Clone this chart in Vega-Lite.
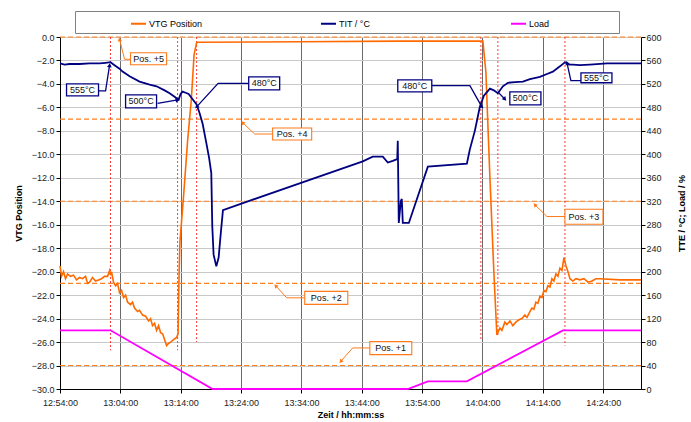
{
  "$schema": "https://vega.github.io/schema/vega-lite/v6.json",
  "width": 581,
  "height": 352,
  "autosize": {"type": "none"},
  "padding": {"left": 60, "top": 37, "right": 50, "bottom": 33},
  "background": "white",
  "config": {
    "view": {"stroke": null},
    "font": "Liberation Sans",
    "axis": {"labelFont": "Liberation Sans", "titleFont": "Liberation Sans", "labelFontSize": 9, "titleFontSize": 9, "labelColor": "#222", "titleColor": "#000", "domainColor": "#000", "tickColor": "#000", "tickSize": 4, "labelOverlap": false},
    "legend": {"orient": "none", "legendX": 15, "legendY": -26, "direction": "horizontal", "columns": 3, "gridAlign": "all", "columnPadding": 66, "symbolOffset": 51, "strokeColor": "#808080", "padding": 4, "symbolType": "stroke", "symbolStrokeWidth": 2, "symbolSize": 225, "labelFontSize": 9, "labelFont": "Liberation Sans", "labelOffset": 2, "labelColor": "#000", "titleOrient": "right", "titlePadding": 66, "titleFontSize": 9}
  },
  "data": {
    "format": {"parse": {"t": "date:'%H:%M:%S'", "t2": "date:'%H:%M:%S'", "tc": "date:'%H:%M:%S'"}},
    "values": [
      {"k": "line", "s": "VTG Position", "t": "12:54:00", "v": -19.5},
      {"k": "line", "s": "VTG Position", "t": "12:54:15", "v": -20.4},
      {"k": "line", "s": "VTG Position", "t": "12:54:35", "v": -20.0},
      {"k": "line", "s": "VTG Position", "t": "12:54:55", "v": -20.6},
      {"k": "line", "s": "VTG Position", "t": "12:55:15", "v": -20.2},
      {"k": "line", "s": "VTG Position", "t": "12:55:44", "v": -20.4},
      {"k": "line", "s": "VTG Position", "t": "12:56:14", "v": -20.3},
      {"k": "line", "s": "VTG Position", "t": "12:56:44", "v": -20.7},
      {"k": "line", "s": "VTG Position", "t": "12:57:14", "v": -20.5},
      {"k": "line", "s": "VTG Position", "t": "12:57:44", "v": -20.6},
      {"k": "line", "s": "VTG Position", "t": "12:58:14", "v": -20.4},
      {"k": "line", "s": "VTG Position", "t": "12:58:34", "v": -21.0},
      {"k": "line", "s": "VTG Position", "t": "12:58:54", "v": -20.9},
      {"k": "line", "s": "VTG Position", "t": "12:59:23", "v": -20.5},
      {"k": "line", "s": "VTG Position", "t": "12:59:53", "v": -20.8},
      {"k": "line", "s": "VTG Position", "t": "13:00:23", "v": -20.7},
      {"k": "line", "s": "VTG Position", "t": "13:00:53", "v": -20.6},
      {"k": "line", "s": "VTG Position", "t": "13:01:23", "v": -20.4},
      {"k": "line", "s": "VTG Position", "t": "13:01:53", "v": -20.4},
      {"k": "line", "s": "VTG Position", "t": "13:02:13", "v": -19.9},
      {"k": "line", "s": "VTG Position", "t": "13:02:22", "v": -20.3},
      {"k": "line", "s": "VTG Position", "t": "13:02:32", "v": -20.0},
      {"k": "line", "s": "VTG Position", "t": "13:02:52", "v": -20.9},
      {"k": "line", "s": "VTG Position", "t": "13:03:12", "v": -21.2},
      {"k": "line", "s": "VTG Position", "t": "13:03:32", "v": -21.0},
      {"k": "line", "s": "VTG Position", "t": "13:03:52", "v": -21.8},
      {"k": "line", "s": "VTG Position", "t": "13:04:12", "v": -21.6},
      {"k": "line", "s": "VTG Position", "t": "13:04:32", "v": -22.2},
      {"k": "line", "s": "VTG Position", "t": "13:04:52", "v": -22.0},
      {"k": "line", "s": "VTG Position", "t": "13:05:12", "v": -22.6},
      {"k": "line", "s": "VTG Position", "t": "13:05:41", "v": -22.8},
      {"k": "line", "s": "VTG Position", "t": "13:06:01", "v": -22.6},
      {"k": "line", "s": "VTG Position", "t": "13:06:21", "v": -23.1},
      {"k": "line", "s": "VTG Position", "t": "13:06:51", "v": -23.4},
      {"k": "line", "s": "VTG Position", "t": "13:07:11", "v": -23.3},
      {"k": "line", "s": "VTG Position", "t": "13:07:41", "v": -23.7},
      {"k": "line", "s": "VTG Position", "t": "13:08:11", "v": -23.8},
      {"k": "line", "s": "VTG Position", "t": "13:08:41", "v": -24.2},
      {"k": "line", "s": "VTG Position", "t": "13:09:00", "v": -24.0},
      {"k": "line", "s": "VTG Position", "t": "13:09:20", "v": -24.6},
      {"k": "line", "s": "VTG Position", "t": "13:09:40", "v": -24.4},
      {"k": "line", "s": "VTG Position", "t": "13:10:00", "v": -25.0},
      {"k": "line", "s": "VTG Position", "t": "13:10:20", "v": -24.6},
      {"k": "line", "s": "VTG Position", "t": "13:10:40", "v": -25.2},
      {"k": "line", "s": "VTG Position", "t": "13:11:00", "v": -25.3},
      {"k": "line", "s": "VTG Position", "t": "13:11:20", "v": -25.8},
      {"k": "line", "s": "VTG Position", "t": "13:11:40", "v": -26.3},
      {"k": "line", "s": "VTG Position", "t": "13:12:00", "v": -26.1},
      {"k": "line", "s": "VTG Position", "t": "13:12:20", "v": -26.0},
      {"k": "line", "s": "VTG Position", "t": "13:12:49", "v": -25.8},
      {"k": "line", "s": "VTG Position", "t": "13:13:19", "v": -25.6},
      {"k": "line", "s": "VTG Position", "t": "13:13:34", "v": -25.3},
      {"k": "line", "s": "VTG Position", "t": "13:13:42", "v": -21.0},
      {"k": "line", "s": "VTG Position", "t": "13:13:52", "v": -17.5},
      {"k": "line", "s": "VTG Position", "t": "13:14:29", "v": -13.5},
      {"k": "line", "s": "VTG Position", "t": "13:15:09", "v": -8.8},
      {"k": "line", "s": "VTG Position", "t": "13:15:45", "v": -5.4},
      {"k": "line", "s": "VTG Position", "t": "13:16:13", "v": -1.5},
      {"k": "line", "s": "VTG Position", "t": "13:16:38", "v": -0.5},
      {"k": "line", "s": "VTG Position", "t": "13:16:48", "v": -0.45},
      {"k": "line", "s": "VTG Position", "t": "13:33:43", "v": -0.4},
      {"k": "line", "s": "VTG Position", "t": "13:50:18", "v": -0.35},
      {"k": "line", "s": "VTG Position", "t": "14:04:04", "v": -0.35},
      {"k": "line", "s": "VTG Position", "t": "14:04:34", "v": -3.0},
      {"k": "line", "s": "VTG Position", "t": "14:05:14", "v": -12.0},
      {"k": "line", "s": "VTG Position", "t": "14:05:53", "v": -20.0},
      {"k": "line", "s": "VTG Position", "t": "14:06:23", "v": -25.4},
      {"k": "line", "s": "VTG Position", "t": "14:06:53", "v": -24.8},
      {"k": "line", "s": "VTG Position", "t": "14:07:13", "v": -25.0},
      {"k": "line", "s": "VTG Position", "t": "14:07:43", "v": -24.3},
      {"k": "line", "s": "VTG Position", "t": "14:08:03", "v": -24.5},
      {"k": "line", "s": "VTG Position", "t": "14:08:33", "v": -24.2},
      {"k": "line", "s": "VTG Position", "t": "14:09:02", "v": -24.6},
      {"k": "line", "s": "VTG Position", "t": "14:09:32", "v": -24.3},
      {"k": "line", "s": "VTG Position", "t": "14:10:02", "v": -24.1},
      {"k": "line", "s": "VTG Position", "t": "14:10:32", "v": -24.0},
      {"k": "line", "s": "VTG Position", "t": "14:11:02", "v": -23.7},
      {"k": "line", "s": "VTG Position", "t": "14:11:22", "v": -23.9},
      {"k": "line", "s": "VTG Position", "t": "14:11:52", "v": -23.4},
      {"k": "line", "s": "VTG Position", "t": "14:12:11", "v": -23.1},
      {"k": "line", "s": "VTG Position", "t": "14:12:31", "v": -23.2},
      {"k": "line", "s": "VTG Position", "t": "14:12:51", "v": -22.6},
      {"k": "line", "s": "VTG Position", "t": "14:13:11", "v": -22.7},
      {"k": "line", "s": "VTG Position", "t": "14:13:31", "v": -22.1},
      {"k": "line", "s": "VTG Position", "t": "14:13:51", "v": -22.2},
      {"k": "line", "s": "VTG Position", "t": "14:14:11", "v": -21.6},
      {"k": "line", "s": "VTG Position", "t": "14:14:31", "v": -21.7},
      {"k": "line", "s": "VTG Position", "t": "14:14:51", "v": -21.2},
      {"k": "line", "s": "VTG Position", "t": "14:15:11", "v": -21.3},
      {"k": "line", "s": "VTG Position", "t": "14:15:30", "v": -20.6},
      {"k": "line", "s": "VTG Position", "t": "14:15:50", "v": -20.8},
      {"k": "line", "s": "VTG Position", "t": "14:16:10", "v": -20.2},
      {"k": "line", "s": "VTG Position", "t": "14:16:30", "v": -20.4},
      {"k": "line", "s": "VTG Position", "t": "14:16:50", "v": -19.7},
      {"k": "line", "s": "VTG Position", "t": "14:17:10", "v": -19.9},
      {"k": "line", "s": "VTG Position", "t": "14:17:30", "v": -18.8},
      {"k": "line", "s": "VTG Position", "t": "14:17:50", "v": -19.5},
      {"k": "line", "s": "VTG Position", "t": "14:18:10", "v": -20.0},
      {"k": "line", "s": "VTG Position", "t": "14:18:30", "v": -20.6},
      {"k": "line", "s": "VTG Position", "t": "14:18:59", "v": -20.8},
      {"k": "line", "s": "VTG Position", "t": "14:19:29", "v": -20.6},
      {"k": "line", "s": "VTG Position", "t": "14:20:09", "v": -20.7},
      {"k": "line", "s": "VTG Position", "t": "14:20:49", "v": -20.6},
      {"k": "line", "s": "VTG Position", "t": "14:21:29", "v": -20.9},
      {"k": "line", "s": "VTG Position", "t": "14:22:09", "v": -20.8},
      {"k": "line", "s": "VTG Position", "t": "14:22:48", "v": -20.6},
      {"k": "line", "s": "VTG Position", "t": "14:23:28", "v": -20.6},
      {"k": "line", "s": "VTG Position", "t": "14:26:47", "v": -20.7},
      {"k": "line", "s": "VTG Position", "t": "14:30:16", "v": -20.7},

      {"k": "line", "s": "TIT / °C", "t": "12:54:00", "v": 555},
      {"k": "line", "s": "TIT / °C", "t": "12:54:45", "v": 553},
      {"k": "line", "s": "TIT / °C", "t": "12:55:35", "v": 554},
      {"k": "line", "s": "TIT / °C", "t": "12:57:14", "v": 554},
      {"k": "line", "s": "TIT / °C", "t": "12:58:54", "v": 555},
      {"k": "line", "s": "TIT / °C", "t": "13:00:33", "v": 555},
      {"k": "line", "s": "TIT / °C", "t": "13:01:33", "v": 556},
      {"k": "line", "s": "TIT / °C", "t": "13:02:22", "v": 557},
      {"k": "line", "s": "TIT / °C", "t": "13:03:02", "v": 552},
      {"k": "line", "s": "TIT / °C", "t": "13:03:52", "v": 546},
      {"k": "line", "s": "TIT / °C", "t": "13:04:22", "v": 541},
      {"k": "line", "s": "TIT / °C", "t": "13:05:32", "v": 533},
      {"k": "line", "s": "TIT / °C", "t": "13:07:11", "v": 524},
      {"k": "line", "s": "TIT / °C", "t": "13:08:51", "v": 519},
      {"k": "line", "s": "TIT / °C", "t": "13:10:00", "v": 516},
      {"k": "line", "s": "TIT / °C", "t": "13:11:20", "v": 509},
      {"k": "line", "s": "TIT / °C", "t": "13:12:10", "v": 504},
      {"k": "line", "s": "TIT / °C", "t": "13:12:59", "v": 498},
      {"k": "line", "s": "TIT / °C", "t": "13:13:39", "v": 493},
      {"k": "line", "s": "TIT / °C", "t": "13:13:59", "v": 503},
      {"k": "line", "s": "TIT / °C", "t": "13:14:19", "v": 507},
      {"k": "line", "s": "TIT / °C", "t": "13:14:49", "v": 505},
      {"k": "line", "s": "TIT / °C", "t": "13:15:19", "v": 503},
      {"k": "line", "s": "TIT / °C", "t": "13:15:58", "v": 494},
      {"k": "line", "s": "TIT / °C", "t": "13:16:38", "v": 485},
      {"k": "line", "s": "TIT / °C", "t": "13:17:08", "v": 470},
      {"k": "line", "s": "TIT / °C", "t": "13:17:38", "v": 452},
      {"k": "line", "s": "TIT / °C", "t": "13:18:15", "v": 419},
      {"k": "line", "s": "TIT / °C", "t": "13:18:43", "v": 393},
      {"k": "line", "s": "TIT / °C", "t": "13:19:04", "v": 368},
      {"k": "line", "s": "TIT / °C", "t": "13:19:14", "v": 277},
      {"k": "line", "s": "TIT / °C", "t": "13:19:27", "v": 229},
      {"k": "line", "s": "TIT / °C", "t": "13:19:54", "v": 209},
      {"k": "line", "s": "TIT / °C", "t": "13:20:17", "v": 224},
      {"k": "line", "s": "TIT / °C", "t": "13:20:37", "v": 263},
      {"k": "line", "s": "TIT / °C", "t": "13:21:00", "v": 305},
      {"k": "line", "s": "TIT / °C", "t": "13:44:10", "v": 388},
      {"k": "line", "s": "TIT / °C", "t": "13:45:49", "v": 396},
      {"k": "line", "s": "TIT / °C", "t": "13:47:29", "v": 396},
      {"k": "line", "s": "TIT / °C", "t": "13:48:19", "v": 386},
      {"k": "line", "s": "TIT / °C", "t": "13:49:08", "v": 389},
      {"k": "line", "s": "TIT / °C", "t": "13:49:53", "v": 392},
      {"k": "line", "s": "TIT / °C", "t": "13:49:58", "v": 423},
      {"k": "line", "s": "TIT / °C", "t": "13:50:08", "v": 283},
      {"k": "line", "s": "TIT / °C", "t": "13:50:28", "v": 320},
      {"k": "line", "s": "TIT / °C", "t": "13:50:38", "v": 324},
      {"k": "line", "s": "TIT / °C", "t": "13:50:48", "v": 283},
      {"k": "line", "s": "TIT / °C", "t": "13:51:48", "v": 283},
      {"k": "line", "s": "TIT / °C", "t": "13:54:57", "v": 379},
      {"k": "line", "s": "TIT / °C", "t": "14:01:25", "v": 384},
      {"k": "line", "s": "TIT / °C", "t": "14:01:54", "v": 408},
      {"k": "line", "s": "TIT / °C", "t": "14:02:44", "v": 440},
      {"k": "line", "s": "TIT / °C", "t": "14:03:34", "v": 481},
      {"k": "line", "s": "TIT / °C", "t": "14:04:14", "v": 500},
      {"k": "line", "s": "TIT / °C", "t": "14:05:14", "v": 512},
      {"k": "line", "s": "TIT / °C", "t": "14:05:53", "v": 509},
      {"k": "line", "s": "TIT / °C", "t": "14:06:33", "v": 504},
      {"k": "line", "s": "TIT / °C", "t": "14:07:23", "v": 516},
      {"k": "line", "s": "TIT / °C", "t": "14:08:13", "v": 522},
      {"k": "line", "s": "TIT / °C", "t": "14:09:23", "v": 523},
      {"k": "line", "s": "TIT / °C", "t": "14:10:42", "v": 524},
      {"k": "line", "s": "TIT / °C", "t": "14:11:52", "v": 528},
      {"k": "line", "s": "TIT / °C", "t": "14:13:31", "v": 532},
      {"k": "line", "s": "TIT / °C", "t": "14:14:41", "v": 537},
      {"k": "line", "s": "TIT / °C", "t": "14:15:40", "v": 541},
      {"k": "line", "s": "TIT / °C", "t": "14:16:50", "v": 550},
      {"k": "line", "s": "TIT / °C", "t": "14:17:40", "v": 557},
      {"k": "line", "s": "TIT / °C", "t": "14:18:20", "v": 553},
      {"k": "line", "s": "TIT / °C", "t": "14:18:59", "v": 553},
      {"k": "line", "s": "TIT / °C", "t": "14:20:09", "v": 552},
      {"k": "line", "s": "TIT / °C", "t": "14:21:48", "v": 553},
      {"k": "line", "s": "TIT / °C", "t": "14:24:38", "v": 555},
      {"k": "line", "s": "TIT / °C", "t": "14:30:16", "v": 555},

      {"k": "line", "s": "Load", "t": "12:54:00", "v": 100},
      {"k": "line", "s": "Load", "t": "13:02:22", "v": 100},
      {"k": "line", "s": "Load", "t": "13:19:17", "v": 0},
      {"k": "line", "s": "Load", "t": "13:51:38", "v": 0},
      {"k": "line", "s": "Load", "t": "13:54:57", "v": 13},
      {"k": "line", "s": "Load", "t": "14:01:25", "v": 13},
      {"k": "line", "s": "Load", "t": "14:17:20", "v": 100},
      {"k": "line", "s": "Load", "t": "14:30:16", "v": 100},

      {"k": "level", "v": 0},
      {"k": "level", "v": -7},
      {"k": "level", "v": -14},
      {"k": "level", "v": -21},
      {"k": "level", "v": -28},

      {"k": "marker", "t": "13:02:22", "v": 0, "v2": -26.7},
      {"k": "marker", "t": "13:13:29", "v": 0, "v2": -26.7},
      {"k": "marker", "t": "13:16:38", "v": 0, "v2": -26.0},
      {"k": "marker", "t": "14:03:44", "v": 0, "v2": -25.9},
      {"k": "marker", "t": "14:06:33", "v": 0, "v2": -25.5},
      {"k": "marker", "t": "14:17:40", "v": 0, "v2": -26.3},

      {"k": "box", "g": "temp", "label": "555°C", "t": "12:55:05", "t2": "13:00:23", "v": -4.0, "v2": -5.02, "tc": "12:57:44", "vc": -4.51},
      {"k": "box", "g": "temp", "label": "500°C", "t": "13:04:52", "t2": "13:10:00", "v": -4.93, "v2": -6.04, "tc": "13:07:26", "vc": -5.49},
      {"k": "box", "g": "temp", "label": "480°C", "t": "13:25:16", "t2": "13:30:24", "v": -3.39, "v2": -4.5, "tc": "13:27:50", "vc": -3.95},
      {"k": "box", "g": "temp", "label": "480°C", "t": "13:49:58", "t2": "13:55:36", "v": -3.65, "v2": -4.68, "tc": "13:52:47", "vc": -4.15},
      {"k": "box", "g": "temp", "label": "500°C", "t": "14:08:32", "t2": "14:13:41", "v": -4.68, "v2": -5.79, "tc": "14:11:07", "vc": -5.24},
      {"k": "box", "g": "temp", "label": "555°C", "t": "14:20:19", "t2": "14:25:27", "v": -3.05, "v2": -3.9, "tc": "14:22:53", "vc": -3.48},
      {"k": "box", "g": "pos", "label": "Pos. +5", "t": "13:05:41", "t2": "13:11:40", "v": -1.34, "v2": -2.37, "tc": "13:08:41", "vc": -1.86},
      {"k": "box", "g": "pos", "label": "Pos. +4", "t": "13:29:14", "t2": "13:35:42", "v": -7.75, "v2": -8.78, "tc": "13:32:28", "vc": -8.27},
      {"k": "box", "g": "pos", "label": "Pos. +2", "t": "13:34:33", "t2": "13:41:41", "v": -21.68, "v2": -22.79, "tc": "13:38:07", "vc": -22.23},
      {"k": "box", "g": "pos", "label": "Pos. +1", "t": "13:45:20", "t2": "13:52:17", "v": -25.96, "v2": -27.07, "tc": "13:48:48", "vc": -26.5},
      {"k": "box", "g": "pos", "label": "Pos. +3", "t": "14:17:40", "t2": "14:23:58", "v": -14.68, "v2": -15.96, "tc": "14:20:49", "vc": -15.3},

      {"k": "conn", "g": "temp", "id": "c1", "o": 1, "t": "13:00:23", "v": -4.6},
      {"k": "conn", "g": "temp", "id": "c1", "o": 2, "t": "13:01:33", "v": -4.6},
      {"k": "conn", "g": "temp", "id": "c1", "o": 3, "t": "13:02:13", "v": -2.4},
      {"k": "conn", "g": "temp", "id": "c2", "o": 1, "t": "13:10:10", "v": -5.65},
      {"k": "conn", "g": "temp", "id": "c2", "o": 2, "t": "13:13:29", "v": -5.36},
      {"k": "conn", "g": "temp", "id": "c3", "o": 1, "t": "13:25:16", "v": -3.95},
      {"k": "conn", "g": "temp", "id": "c3", "o": 2, "t": "13:20:12", "v": -3.95},
      {"k": "conn", "g": "temp", "id": "c3", "o": 3, "t": "13:16:38", "v": -5.96},
      {"k": "conn", "g": "temp", "id": "c4", "o": 1, "t": "13:55:36", "v": -4.15},
      {"k": "conn", "g": "temp", "id": "c4", "o": 2, "t": "14:01:55", "v": -4.15},
      {"k": "conn", "g": "temp", "id": "c4", "o": 3, "t": "14:03:54", "v": -5.96},
      {"k": "conn", "g": "temp", "id": "c5", "o": 1, "t": "14:06:33", "v": -4.68},
      {"k": "conn", "g": "temp", "id": "c5", "o": 2, "t": "14:07:43", "v": -5.3},
      {"k": "conn", "g": "temp", "id": "c6", "o": 1, "t": "14:18:00", "v": -2.2},
      {"k": "conn", "g": "temp", "id": "c6", "o": 2, "t": "14:18:39", "v": -3.72},
      {"k": "conn", "g": "temp", "id": "c6", "o": 3, "t": "14:20:19", "v": -3.72},
      {"k": "conn", "g": "pos", "id": "p5", "o": 1, "t": "13:05:41", "v": -1.9},
      {"k": "conn", "g": "pos", "id": "p5", "o": 2, "t": "13:04:42", "v": -1.9},
      {"k": "conn", "g": "pos", "id": "p5", "o": 3, "t": "13:03:52", "v": -0.2},
      {"k": "conn", "g": "pos", "id": "p4", "o": 1, "t": "13:29:14", "v": -8.27},
      {"k": "conn", "g": "pos", "id": "p4", "o": 2, "t": "13:26:15", "v": -8.27},
      {"k": "conn", "g": "pos", "id": "p4", "o": 3, "t": "13:24:16", "v": -7.3},
      {"k": "conn", "g": "pos", "id": "p2", "o": 1, "t": "13:34:33", "v": -22.23},
      {"k": "conn", "g": "pos", "id": "p2", "o": 2, "t": "13:31:34", "v": -22.23},
      {"k": "conn", "g": "pos", "id": "p2", "o": 3, "t": "13:29:44", "v": -21.2},
      {"k": "conn", "g": "pos", "id": "p1", "o": 1, "t": "13:45:20", "v": -26.5},
      {"k": "conn", "g": "pos", "id": "p1", "o": 2, "t": "13:42:30", "v": -26.5},
      {"k": "conn", "g": "pos", "id": "p1", "o": 3, "t": "13:40:31", "v": -27.65},
      {"k": "conn", "g": "pos", "id": "p3", "o": 1, "t": "14:17:40", "v": -15.3},
      {"k": "conn", "g": "pos", "id": "p3", "o": 2, "t": "14:14:41", "v": -15.3},
      {"k": "conn", "g": "pos", "id": "p3", "o": 3, "t": "14:12:41", "v": -14.3},

      {"k": "arrow", "g": "temp", "t": "13:02:13", "v": -2.4, "a": 6},
      {"k": "arrow", "g": "temp", "t": "13:13:29", "v": -5.36, "a": 77},
      {"k": "arrow", "g": "temp", "t": "13:16:38", "v": -5.96, "a": 225},
      {"k": "arrow", "g": "temp", "t": "14:03:54", "v": -5.96, "a": 131},
      {"k": "arrow", "g": "temp", "t": "14:07:43", "v": -5.3, "a": 138},
      {"k": "arrow", "g": "temp", "t": "14:18:00", "v": -2.2, "a": 338},
      {"k": "arrow", "g": "pos", "t": "13:03:52", "v": -0.2, "a": 352},
      {"k": "arrow", "g": "pos", "t": "13:24:16", "v": -7.3, "a": 318},
      {"k": "arrow", "g": "pos", "t": "13:29:44", "v": -21.2, "a": 321},
      {"k": "arrow", "g": "pos", "t": "13:40:31", "v": -27.65, "a": 220},
      {"k": "arrow", "g": "pos", "t": "14:12:41", "v": -14.3, "a": 318}
    ]
  },
  "layer": [
    {
      "layer": [
        {
          "transform": [{"filter": "datum.k === 'level'"}],
          "mark": {"type": "rule", "color": "#ff8020", "strokeDash": [5, 3], "strokeWidth": 1.1},
          "encoding": {
            "y": {"field": "v", "type": "quantitative", "scale": {"domain": [-30, 0], "nice": false, "zero": false},
              "axis": {"orient": "left", "values": [-30, -28, -26, -24, -22, -20, -18, -16, -14, -12, -10, -8, -6, -4, -2, 0], "tickCount": 20, "format": ".1f", "grid": true, "gridColor": "#c8c8c8", "title": "VTG Position", "titleFontWeight": "bold", "titlePadding": 8, "labelPadding": 2, "labelOverlap": false, "labelBound": false}}
          }
        },
        {
          "transform": [{"filter": "datum.k === 'marker'"}],
          "mark": {"type": "rule", "color": "#ff3b3b", "strokeDash": [2, 2], "strokeWidth": 1},
          "encoding": {
            "x": {"field": "t", "type": "temporal"},
            "y": {"field": "v", "type": "quantitative", "axis": {"labelOverlap": false, "tickCount": 20}},
            "y2": {"field": "v2"}
          }
        },
        {
          "transform": [{"filter": "datum.k === 'line' && datum.s === 'VTG Position'"}],
          "mark": {"type": "line", "strokeWidth": 1.6},
          "encoding": {
            "x": {"field": "t", "type": "temporal",
              "scale": {"domain": [{"year": 1900, "month": 1, "date": 1, "hours": 12, "minutes": 54}, {"year": 1900, "month": 1, "date": 1, "hours": 14, "minutes": 30, "seconds": 16}]},
              "axis": {"values": [
                {"year": 1900, "month": 1, "date": 1, "hours": 12, "minutes": 54},
                {"year": 1900, "month": 1, "date": 1, "hours": 13, "minutes": 4},
                {"year": 1900, "month": 1, "date": 1, "hours": 13, "minutes": 14},
                {"year": 1900, "month": 1, "date": 1, "hours": 13, "minutes": 24},
                {"year": 1900, "month": 1, "date": 1, "hours": 13, "minutes": 34},
                {"year": 1900, "month": 1, "date": 1, "hours": 13, "minutes": 44},
                {"year": 1900, "month": 1, "date": 1, "hours": 13, "minutes": 54},
                {"year": 1900, "month": 1, "date": 1, "hours": 14, "minutes": 4},
                {"year": 1900, "month": 1, "date": 1, "hours": 14, "minutes": 14},
                {"year": 1900, "month": 1, "date": 1, "hours": 14, "minutes": 24}],
                "tickCount": 20, "format": "%H:%M:%S", "grid": true, "gridColor": "#6a6a6a", "title": "Zeit / hh:mm:ss", "titleFontWeight": "bold", "labelPadding": 5, "titlePadding": 3, "labelFlush": false}},
            "y": {"field": "v", "type": "quantitative", "axis": {"labelOverlap": false, "tickCount": 20}},
            "color": {"field": "s", "type": "nominal", "scale": {"domain": ["VTG Position", "TIT / °C", "Load"], "range": ["#ff6a00", "#000080", "#ff00ff"]}, "legend": {"title": " "}}
          }
        }
      ]
    },
    {
      "transform": [{"filter": "datum.k === 'line' && datum.s !== 'VTG Position'"}],
      "mark": {"type": "line", "strokeWidth": 1.8},
      "encoding": {
        "x": {"field": "t", "type": "temporal"},
        "y": {"field": "v", "type": "quantitative", "scale": {"domain": [0, 600], "nice": false},
          "axis": {"orient": "right", "values": [0, 40, 80, 120, 160, 200, 240, 280, 320, 360, 400, 440, 480, 520, 560, 600], "format": "d", "grid": false, "title": "TTE / °C; Load / %", "titleFontWeight": "bold", "titleAngle": -90, "titlePadding": 25, "labelPadding": 1, "labelOverlap": false}},
        "color": {"field": "s", "type": "nominal", "legend": {"title": " "}}
      }
    },
    {
      "layer": [
        {
          "transform": [{"filter": "datum.k === 'conn' && datum.g === 'temp'"}],
          "mark": {"type": "line", "color": "#000080", "strokeWidth": 1.3},
          "encoding": {
            "x": {"field": "t", "type": "temporal"},
            "y": {"field": "v", "type": "quantitative", "scale": {"domain": [-30, 0], "nice": false, "zero": false}, "axis": null},
            "detail": {"field": "id"},
            "order": {"field": "o"}
          }
        },
        {
          "transform": [{"filter": "datum.k === 'conn' && datum.g === 'pos'"}],
          "mark": {"type": "line", "color": "#ff7a1a", "strokeWidth": 1},
          "encoding": {
            "x": {"field": "t", "type": "temporal"},
            "y": {"field": "v", "type": "quantitative", "axis": null},
            "detail": {"field": "id"},
            "order": {"field": "o"}
          }
        },
        {
          "transform": [{"filter": "datum.k === 'arrow' && datum.g === 'temp'"}],
          "mark": {"type": "point", "shape": "triangle-up", "filled": true, "color": "#000080", "size": 22, "opacity": 1},
          "encoding": {
            "x": {"field": "t", "type": "temporal"},
            "y": {"field": "v", "type": "quantitative", "axis": null},
            "angle": {"field": "a", "type": "quantitative", "scale": null}
          }
        },
        {
          "transform": [{"filter": "datum.k === 'arrow' && datum.g === 'pos'"}],
          "mark": {"type": "point", "shape": "triangle-up", "filled": true, "color": "#ff7a1a", "size": 20, "opacity": 1},
          "encoding": {
            "x": {"field": "t", "type": "temporal"},
            "y": {"field": "v", "type": "quantitative", "axis": null},
            "angle": {"field": "a", "type": "quantitative", "scale": null}
          }
        },
        {
          "transform": [{"filter": "datum.k === 'box' && datum.g === 'temp'"}],
          "mark": {"type": "rect", "fill": "white", "stroke": "#000080", "strokeWidth": 1.3},
          "encoding": {
            "x": {"field": "t", "type": "temporal"},
            "x2": {"field": "t2"},
            "y": {"field": "v", "type": "quantitative", "axis": null},
            "y2": {"field": "v2"}
          }
        },
        {
          "transform": [{"filter": "datum.k === 'box' && datum.g === 'pos'"}],
          "mark": {"type": "rect", "fill": "white", "stroke": "#ff7a1a", "strokeWidth": 1.1},
          "encoding": {
            "x": {"field": "t", "type": "temporal"},
            "x2": {"field": "t2"},
            "y": {"field": "v", "type": "quantitative", "axis": null},
            "y2": {"field": "v2"}
          }
        },
        {
          "transform": [{"filter": "datum.k === 'box'"}],
          "mark": {"type": "text", "fontSize": 9, "font": "Liberation Sans", "color": "#111", "align": "center", "baseline": "middle"},
          "encoding": {
            "x": {"field": "tc", "type": "temporal"},
            "y": {"field": "vc", "type": "quantitative", "axis": null},
            "text": {"field": "label"}
          }
        }
      ]
    }
  ],
  "resolve": {"scale": {"y": "independent"}}
}
